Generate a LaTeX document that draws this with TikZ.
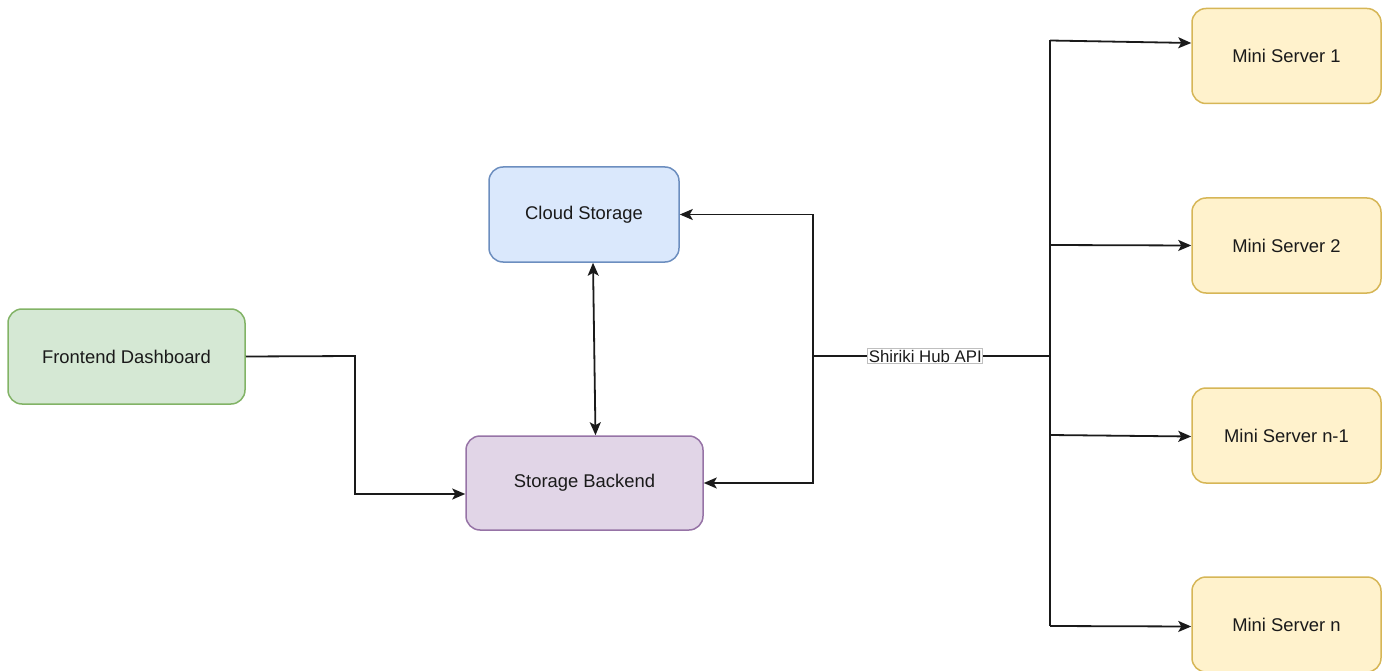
\documentclass[tikz,border=0pt]{standalone}
\usepackage{fontspec}
\setmainfont{Liberation Sans}
\usetikzlibrary{arrows.meta}

\definecolor{greenfill}{HTML}{D5E8D4}\definecolor{greenline}{HTML}{82B366}
\definecolor{bluefill}{HTML}{DAE8FC}\definecolor{blueline}{HTML}{6C8EBF}
\definecolor{purplefill}{HTML}{E1D5E7}\definecolor{purpleline}{HTML}{9673A6}
\definecolor{yellowfill}{HTML}{FFF2CC}\definecolor{yellowline}{HTML}{D6B656}
\definecolor{ink}{HTML}{1A1A1A}

\tikzset{
  box/.style={draw, line width=1.5pt, rounded corners=14pt, align=center,
    text=ink, font=\fontsize{18.4}{22}\selectfont, inner sep=0pt},
  greenbox/.style={box, fill=greenfill, draw=greenline},
  bluebox/.style={box, fill=bluefill, draw=blueline},
  purplebox/.style={box, fill=purplefill, draw=purpleline},
  serverbox/.style={box, fill=yellowfill, draw=yellowline,
    minimum width=189pt, minimum height=95pt},
  link/.style={draw=ink, line width=1.8pt},
  tip/.style={Stealth[length=13pt,width=11pt,inset=3pt]},
  arr/.style={link, -{Stealth[length=13pt,width=11pt,inset=3pt]}},
  biarr/.style={link, {Stealth[length=13pt,width=11pt,inset=3pt]}-{Stealth[length=13pt,width=11pt,inset=3pt]}},
  edgelabel/.style={fill=white, draw=black!25, line width=0.8pt, text=ink,
    font=\fontsize{16.8}{19}\selectfont, inner sep=1pt}
}

\begin{document}
\begin{tikzpicture}[x=1pt,y=-1pt]
\useasboundingbox (0,0) rectangle (1387,671);

% components
\node[greenbox, minimum width=237pt, minimum height=95pt] (fd) at (126.5,356.5) {Frontend Dashboard};
\node[bluebox, minimum width=190pt, minimum height=95pt] (cs) at (584,214.5) {Cloud Storage};
\node[purplebox, minimum width=237pt, minimum height=94pt] (be) at (584.5,483) {Storage Backend};

\node[serverbox] (ms1) at (1286.5,56) {Mini Server 1};
\node[serverbox] (ms2) at (1286.5,245.5) {Mini Server 2};
\node[serverbox] (ms3) at (1286.5,435.5) {Mini Server n-1};
\node[serverbox] (ms4) at (1286.5,624.5) {Mini Server n};

% dashboard to backend
\coordinate (bend) at (355,356);
\draw[arr] (fd.east) -- (bend) |- ([yshift=-11pt]be.west);

% cloud storage <-> backend
\draw[biarr] ([xshift=9pt]cs.south) -- ([xshift=11pt]be.north);

% hub API
\coordinate (hub) at (1050,356);
\coordinate (hubL) at (813,356);
\draw[link] (hub) -- node[edgelabel, pos=0.526] {Shiriki Hub API} (hubL);
\draw[arr] (hubL) |- (cs.east);
\draw[arr] (hubL) |- (be.east);

% distribution trunk to the mini servers
\coordinate (t1) at (1050,40.5);
\coordinate (t2) at (1050,245);
\coordinate (t3) at (1050,435);
\coordinate (t4) at (1050,626);
\draw[link] (t1) -- (t4);
\draw[arr] (t1) -- ([yshift=13pt]ms1.west);
\draw[arr] (t2) -- (ms2.west);
\draw[arr] (t3) -- ([yshift=-1pt]ms3.west);
\draw[arr] (t4) -- ([yshift=-2pt]ms4.west);
\end{tikzpicture}
\end{document}
